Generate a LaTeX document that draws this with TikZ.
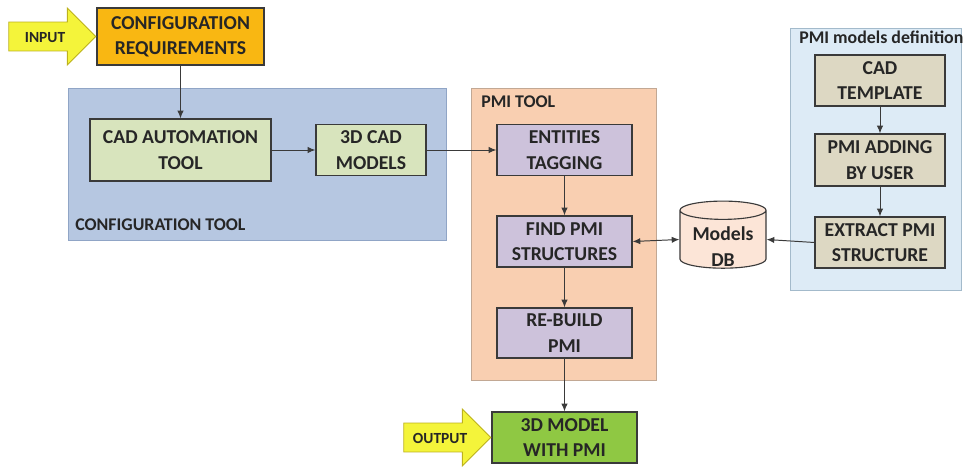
\documentclass[tikz,border=0pt]{standalone}
\usepackage{fontspec}
\setmainfont{Carlito}
\usetikzlibrary{shapes.geometric, shapes.arrows, arrows.meta, positioning}
\definecolor{txtc}{HTML}{262626}
\definecolor{linec}{HTML}{3A3A3A}
\definecolor{reqorange}{HTML}{F9B712}
\definecolor{inyellow}{HTML}{F4F43A}
\definecolor{inyellowd}{HTML}{BDB21C}
\definecolor{cfgblue}{HTML}{B6C7E1}
\definecolor{cfgblued}{HTML}{90A5C6}
\definecolor{boxgreen}{HTML}{D8E4BD}
\definecolor{pmipeach}{HTML}{F9CFB1}
\definecolor{pmipeachd}{HTML}{C2A894}
\definecolor{boxlav}{HTML}{CDC2DB}
\definecolor{outgreen}{HTML}{8FC843}
\definecolor{defblue}{HTML}{DDEBF6}
\definecolor{defblued}{HTML}{A3BACB}
\definecolor{boxtan}{HTML}{DDD8C3}
\definecolor{dbpeach}{HTML}{FCE5D7}

\begin{document}
\begin{tikzpicture}[
		x=0.025cm, y=-0.025cm,
		region/.style={rectangle, draw, line width=0.5pt, inner sep=0pt},
		box/.style={rectangle, draw=linec, line width=0.8pt, inner sep=0pt, align=center,
			text=txtc, font=\fontsize{14}{18}\selectfont\bfseries},
		reglabel/.style={anchor=west, inner sep=0pt, text=txtc, font=\fontsize{12.7}{14}\selectfont\bfseries},
		ioarrow/.style={single arrow, draw=inyellowd, fill=inyellow, line width=0.6pt,
			minimum height=2.175cm, single arrow head extend=0.35cm, inner xsep=2pt,
			inner ysep=6pt, text height=8pt, text depth=0pt, anchor=tip,
			text=txtc, font=\fontsize{11}{12}\selectfont\bfseries},
		conn/.style={draw=linec, line width=0.7pt, -{Latex[length=5.5pt,width=4.5pt]}},
		>=Latex
		]
		\useasboundingbox (0,0) rectangle (963,467);
		
		% regions
		\node[region, draw=cfgblued, fill=cfgblue, minimum width=9.45cm, minimum height=3.8cm] (cfgtool) at (257,164) {};
		\node[region, draw=pmipeachd, fill=pmipeach, minimum width=4.625cm, minimum height=7.3cm] (pmitool) at (563.5,234) {};
		\node[region, draw=defblued, fill=defblue, minimum width=4.275cm, minimum height=6.55cm] (pmidef) at (875.5,159) {};
		\node[reglabel] (cfglabel) at (75,225) {CONFIGURATION TOOL};
		\node[reglabel] (pmilabel) at (481,102) {PMI TOOL};
		\node[reglabel] (deflabel) at (799,37) {PMI models definition};
		
		% input / output
		\node[box, fill=reqorange, minimum width=4.175cm, minimum height=1.425cm] (req) at (180.5,36.5) {CONFIGURATION\\REQUIREMENTS};
		\node[ioarrow] (input) at (req.west) {INPUT};
		\node[box, fill=outgreen, minimum width=3.625cm, minimum height=1.275cm] (out3d) at (564.5,437.5) {3D MODEL\\WITH PMI};
		\node[ioarrow] (output) at (out3d.west) {OUTPUT};
		
		% configuration tool
		\node[box, fill=boxgreen, minimum width=4.525cm, minimum height=1.55cm] (cadauto) at (180.5,150) {CAD AUTOMATION\\TOOL};
		\node[box, fill=boxgreen, minimum width=2.75cm, minimum height=1.275cm] (cadmod) at (371,150) {3D CAD\\MODELS};
		
		% pmi tool
		\node[box, fill=boxlav, minimum width=3.375cm, minimum height=1.275cm] (tag) at (564.5,150) {ENTITIES\\TAGGING};
		\node[box, fill=boxlav, minimum width=3.375cm, minimum height=1.275cm] (find) at (564.5,241.5) {FIND PMI\\STRUCTURES};
		\node[box, fill=boxlav, minimum width=3.375cm, minimum height=1.25cm] (rebuild) at (564.5,333) {RE-BUILD\\PMI};
		
		% database
		\node[cylinder, shape border rotate=90, aspect=0.3, draw=linec, line width=0.8pt, fill=dbpeach,
			minimum width=2.15cm, minimum height=1.525cm, inner sep=0pt, align=center,
			font=\fontsize{14}{18}\selectfont\bfseries] (db) at (723,239.5) {\phantom{Models}\\\phantom{DB}};
		\node[align=center, inner sep=0pt, text=txtc, font=\fontsize{14}{18}\selectfont\bfseries]
			(dbtext) at ([yshift=-5pt]db.center) {Models\\DB};
		
		% pmi models definition
		\node[box, fill=boxtan, minimum width=3.25cm, minimum height=1.275cm] (tmpl) at (880,80.5) {CAD\\TEMPLATE};
		\node[box, fill=boxtan, minimum width=3.25cm, minimum height=1.3cm] (adding) at (880,160) {PMI ADDING\\BY USER};
		\node[box, fill=boxtan, minimum width=3.25cm, minimum height=1.275cm] (extract) at (880,242.5) {EXTRACT PMI\\STRUCTURE};
		
		% connectors
		\draw[conn] (req.south) -- (cadauto.north);
		\draw[conn] (cadauto.east) -- (cadmod.west);
		\draw[conn] (cadmod.east) -- (tag.west);
		\draw[conn] (tag.south) -- (find.north);
		\draw[conn] (find.south) -- (rebuild.north);
		\draw[conn] (rebuild.south) -- (out3d.north);
		\draw[conn, {Latex[length=5.5pt,width=4.5pt]}-{Latex[length=5.5pt,width=4.5pt]}] (find.east) -- (db.west);
		\draw[conn] (extract.west) -- (db.east);
		\draw[conn] (tmpl.south) -- (adding.north);
		\draw[conn] (adding.south) -- (extract.north);
\end{tikzpicture}
\end{document}
